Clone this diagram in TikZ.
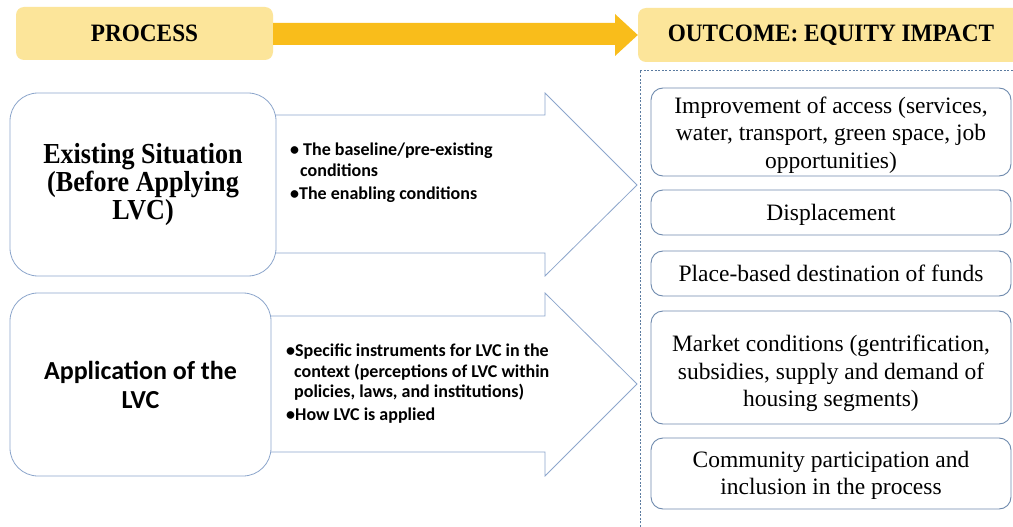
\documentclass[tikz,border=0pt]{standalone}
\usepackage{fontspec}
\setmainfont{Liberation Serif}
\newfontfamily\calib{Carlito}
\newfontfamily\tnrc[FakeStretch=0.93]{Liberation Serif}
\newfontfamily\tnrcc[FakeStretch=0.9]{Liberation Serif}
\definecolor{yfill}{HTML}{FCE59A}
\definecolor{yarrow}{HTML}{F9BD1B}
\definecolor{lblue}{HTML}{8DA6CC}
\definecolor{rblue}{HTML}{6F8AAE}
\definecolor{dblue}{HTML}{5B7BA0}
\begin{document}
\begin{tikzpicture}[x=1pt,y=-1pt,
  ybox/.style={fill=yfill, rounded corners=8pt, inner sep=0pt, font=\tnrc\bfseries\fontsize{25}{28}\selectfont},
  lbox/.style={draw=lblue, line width=0.8pt, fill=white, rounded corners=28pt, align=center, inner sep=0pt},
  rbox/.style={draw=rblue, line width=0.9pt, fill=white, rounded corners=12pt, minimum width=360pt, inner sep=0pt},
  rtext/.style={align=center, inner sep=0pt, font=\fontsize{23.5}{27.5}\selectfont},
  barrow/.style={draw=lblue, line width=0.8pt, fill=white, line join=miter},
  btext/.style={font=\calib\bfseries\fontsize{18}{20.3}\selectfont, align=left, anchor=north west, inner sep=0pt}
]
\useasboundingbox (0,0) rectangle (1013,527);
\fill[white] (0,0) rectangle (1013,527);

% header
\node[ybox, minimum width=257pt, minimum height=53pt] (proc) at (144.5,33.5) {PROCESS};
\node[ybox, minimum width=386pt, minimum height=54pt] (outc) at (831,35) {OUTCOME: EQUITY IMPACT};
\fill[yarrow] (proc.east |- 0,23) -- (615,23) -- (615,14) -- (outc.west |- 0,35) -- (615,56) -- (615,45) -- (proc.east |- 0,45) -- cycle;

% dashed frame
\coordinate (dtop) at (1013,70);
\coordinate (dcorner) at (640,70);
\coordinate (dbot) at (640,527);
\draw[dblue, line width=0.6pt, dash pattern=on 2pt off 1.6pt] (dbot) -- (dcorner) -- (dtop);

% arrows
\draw[barrow] (260,115) -- (545,115) -- (545,93) -- (637,185) -- (545,276) -- (545,253) -- (260,253) -- cycle;
\draw[barrow] (255,316) -- (545,316) -- (545,293) -- (637,384) -- (545,476) -- (545,452) -- (255,452) -- cycle;

% left boxes
\node[lbox, minimum width=266pt, minimum height=183pt, font=\tnrcc\bfseries\fontsize{29}{27.5}\selectfont] (exist) at (143,184.5) {Existing Situation\\[0.5pt](Before Applying\\[0.5pt]LVC)};
\node[lbox, minimum width=261pt, minimum height=183pt, font=\calib\bfseries\fontsize{26}{29}\selectfont] (appl) at (140.5,384.5) {Application of the\\LVC};

% bullet texts
\node[btext] (b1) at (290,143) {\textbullet\ The baseline/pre-existing\\\hspace{10pt}conditions\\[3pt]\textbullet The enabling conditions};
\node[btext] (b2) at (286,344) {\textbullet Specific instruments for LVC in the\\\hspace{8pt}context (perceptions of LVC within\\\hspace{8pt}policies, laws, and institutions)\\[2.5pt]\textbullet How LVC is applied};

% right boxes
\node[rbox, minimum height=88pt] (r1) at (831,132) {};
\node[rbox, minimum height=45pt] (r2) at (831,212.5) {};
\node[rbox, minimum height=45pt] (r3) at (831,273.5) {};
\node[rbox, minimum height=113pt] (r4) at (831,367.5) {};
\node[rbox, minimum height=71pt] (r5) at (831,473.5) {};
\node[rtext] (r1t) at ([yshift=-3pt]r1.center) {Improvement of access (services,\\water, transport, green space, job\\opportunities)};
\node[rtext] (r2t) at ([yshift=-2.5pt]r2.center) {Displacement};
\node[rtext] (r3t) at (r3.center) {Place-based destination of funds};
\node[rtext] (r4t) at ([yshift=-6pt]r4.center) {Market conditions (gentrification,\\subsidies, supply and demand of\\housing segments)};
\node[rtext] (r5t) at ([yshift=-2pt]r5.center) {Community participation and\\inclusion in the process};
\end{tikzpicture}
\end{document}
